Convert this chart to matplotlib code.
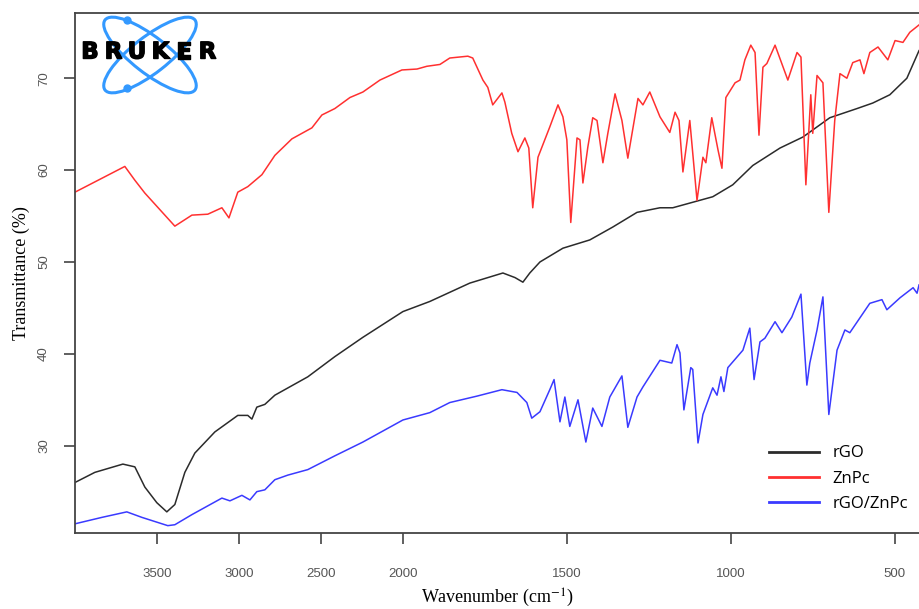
import numpy as np
import matplotlib
matplotlib.use('Agg')
import matplotlib.pyplot as plt
from matplotlib.patches import Ellipse
import matplotlib.patheffects as pe

# ---- data (wavenumber cm-1, transmittance %) ----
znpc_wn = [4000, 3696, 3635, 3574, 3391, 3287, 3190, 3104, 3061, 3007, 2946, 2860, 2781,
           2677, 2555, 2494, 2415, 2323, 2244, 2140, 2006, 1957, 1927, 1887, 1857, 1802,
           1787, 1756, 1741, 1726, 1698, 1689, 1668, 1649, 1628, 1616, 1604, 1588, 1552,
           1527, 1512, 1500, 1488, 1469, 1460, 1451, 1436, 1421, 1408, 1390, 1375, 1353,
           1332, 1314, 1283, 1268, 1247, 1216, 1186, 1170, 1158, 1146, 1125, 1103, 1085,
           1076, 1058, 1039, 1027, 1015, 987, 972, 957, 939, 926, 914, 902, 890, 865, 826,
           798, 786, 771, 756, 750, 737, 719, 701, 683, 667, 646, 628, 606, 594, 576, 551,
           521, 499, 475, 454, 426]
znpc_t = [57.6, 60.4, 58.9, 57.5, 53.9, 55.1, 55.2, 55.9, 54.8, 57.6, 58.2, 59.5, 61.6,
          63.4, 64.6, 66.0, 66.7, 67.9, 68.5, 69.8, 70.9, 71.0, 71.3, 71.5, 72.2, 72.4,
          72.2, 69.8, 69.0, 67.1, 68.4, 67.4, 64.0, 62.0, 63.5, 62.4, 55.9, 61.4, 64.7,
          67.1, 65.8, 63.3, 54.3, 63.5, 63.3, 58.6, 62.5, 65.7, 65.4, 60.8, 64.0, 68.3,
          65.4, 61.3, 67.8, 67.1, 68.5, 65.8, 64.1, 66.3, 65.4, 59.8, 65.4, 56.7, 61.4,
          60.8, 65.7, 62.2, 60.2, 67.9, 69.5, 69.8, 72.0, 73.6, 72.8, 63.8, 71.2, 71.6, 73.6, 69.8,
          72.8, 72.3, 58.4, 68.2, 64.0, 70.3, 69.5, 55.4, 65.4, 70.5, 70.0, 71.7, 72.0, 70.5, 72.8, 73.4,
          72.0, 74.1, 73.9, 75.0, 75.8]

rgo_wn = [4000, 3879, 3708, 3635, 3574, 3501, 3440, 3391, 3330, 3269, 3147, 3007, 2946,
          2921, 2891, 2842, 2781, 2580, 2415, 2244, 2000, 1918, 1796, 1695, 1658, 1634,
          1613, 1582, 1512, 1430, 1360, 1286, 1216, 1177, 1116, 1055, 994, 933, 850, 780,
          698, 615, 567, 515, 463, 426]
rgo_t = [26.0, 27.1, 28.0, 27.7, 25.5, 23.8, 22.8, 23.6, 27.1, 29.2, 31.5, 33.3, 33.3,
         32.9, 34.2, 34.5, 35.5, 37.5, 39.7, 41.8, 44.6, 45.7, 47.7, 48.8, 48.3, 47.8,
         48.8, 50.0, 51.5, 52.4, 53.8, 55.4, 55.9, 55.9, 56.5, 57.1, 58.4, 60.5, 62.4, 63.6,
         65.7, 66.7, 67.3, 68.2, 70.0, 73.0]

mix_wn = [4000, 3836, 3684, 3592, 3434, 3391, 3287, 3104, 3055, 2982, 2933, 2891, 2842,
          2781, 2702, 2580, 2415, 2244, 2000, 1918, 1857, 1774, 1698, 1652, 1622, 1607,
          1582, 1552, 1539, 1521, 1506, 1491, 1466, 1442, 1421, 1393, 1369, 1332, 1314,
          1286, 1268, 1216, 1180, 1164, 1155, 1143, 1122, 1116, 1100, 1085, 1055, 1042,
          1030, 1021, 1009, 963, 942, 929, 911, 896, 865, 844, 814, 786, 768, 759, 737,
          719, 701, 676, 652, 637, 576, 539, 524, 484, 444, 432, 426]
mix_t = [21.5, 22.2, 22.8, 22.2, 21.3, 21.4, 22.5, 24.3, 24.0, 24.6, 24.1, 25.0, 25.2,
         26.3, 26.8, 27.4, 28.9, 30.4, 32.8, 33.6, 34.7, 35.4, 36.1, 35.8, 34.7, 33.0,
         33.7, 36.1, 37.2, 32.6, 35.3, 32.1, 35.0, 30.4, 34.1, 32.1, 35.3, 37.6, 32.0,
         35.3, 36.4, 39.3, 39.0, 41.0, 40.1, 33.9, 38.5, 38.3, 30.3, 33.4, 36.3, 35.5,
         37.5, 35.9, 38.5, 40.4, 42.8, 37.2, 41.3, 41.7, 43.5, 42.3, 44.0, 46.5, 36.6, 39.0, 42.6,
         46.2, 33.4, 40.4, 42.6, 42.3, 45.5, 45.9, 44.8, 46.1, 47.2, 46.6, 47.5]

labels = ['rGO', 'ZnPc', 'rGO/ZnPc']
xticks = [3500, 3000, 2500, 2000, 1500, 1000, 500]
yticks = [30, 40, 50, 60, 70]


# Bruker style axis: region above 2000 cm-1 squeezed by half
def fwd(x):
    x = np.asarray(x, dtype=float)
    return np.where(x > 2000, 2000 + (x - 2000) / 2.0, x)


def inv(u):
    u = np.asarray(u, dtype=float)
    return np.where(u > 2000, 2000 + (u - 2000) * 2.0, u)


plt.rcParams['mathtext.fontset'] = 'stix'

fig = plt.figure(figsize=(9.19, 6.09), dpi=100)
ax = fig.add_axes([75 / 919, 1 - 533 / 609, 1 - 75 / 919, (533 - 13) / 609])

ax.plot(rgo_wn, rgo_t, color='#2b2b2b', lw=1.1, label=labels[0])
ax.plot(znpc_wn, znpc_t, color='#ff3030', lw=1.1, label=labels[1])
ax.plot(mix_wn, mix_t, color='#3a3aff', lw=1.1, label=labels[2])

ax.set_xscale('function', functions=(fwd, inv))
ax.set_xlim(4000, 426)
ax.set_ylim(20.5, 77.1)
ax.set_xticks(xticks)
ax.set_xticklabels([str(t) for t in xticks])
ax.set_yticks(yticks)
ax.set_yticklabels([str(t) for t in yticks], rotation=90, va='center')
ax.minorticks_off()

for s in ['left', 'top', 'bottom']:
    ax.spines[s].set_color('#444444')
    ax.spines[s].set_linewidth(1.3)
ax.spines['right'].set_visible(False)
ax.tick_params(axis='both', direction='out', length=8, width=1.2, color='#444444',
               labelcolor='#555555', labelsize=9.5)
ax.tick_params(axis='x', pad=17)
ax.tick_params(axis='y', pad=10)
for lab in ax.get_xticklabels() + ax.get_yticklabels():
    lab.set_family(['Liberation Sans Narrow', 'Liberation Sans', 'DejaVu Sans'])

ax.set_xlabel('Wavenumber (cm$^{-1}$)', family='Liberation Serif', fontsize=13, labelpad=5)
ax.set_ylabel('Transmittance (%)', family='Liberation Serif', fontsize=13, labelpad=6)

leg = ax.legend(loc='lower right', bbox_to_anchor=(1.005, 0.012), frameon=False,
                handlelength=3.0, handletextpad=0.8, labelspacing=0.55,
                prop={'family': 'Open Sans', 'size': 12})
for h in leg.legend_handles:
    h.set_linewidth(2)

# logo in the top left corner
lg = fig.add_axes([78 / 919, 1 - 95 / 609, 150 / 919, 82 / 609])
lg.set_xlim(0, 150)
lg.set_ylim(0, 82)
lg.axis('off')
for ang in (-38, 38):
    lg.add_patch(Ellipse((72, 40), 114, 36, angle=ang, fill=False, ec='#3399ff', lw=2.2))
lg.plot([49, 49], [75, 7], 'o', color='#3399ff', ms=5, ls='none')
for i, ch in enumerate('BRUKER'):
    lg.text(12 + i * 23.5, 43, ch, ha='center', va='center', fontsize=16.5,
            fontweight='heavy', family='DejaVu Sans', color='black',
            path_effects=[pe.withStroke(linewidth=1.0, foreground='black')])

fig.savefig('out.png', dpi=100)
